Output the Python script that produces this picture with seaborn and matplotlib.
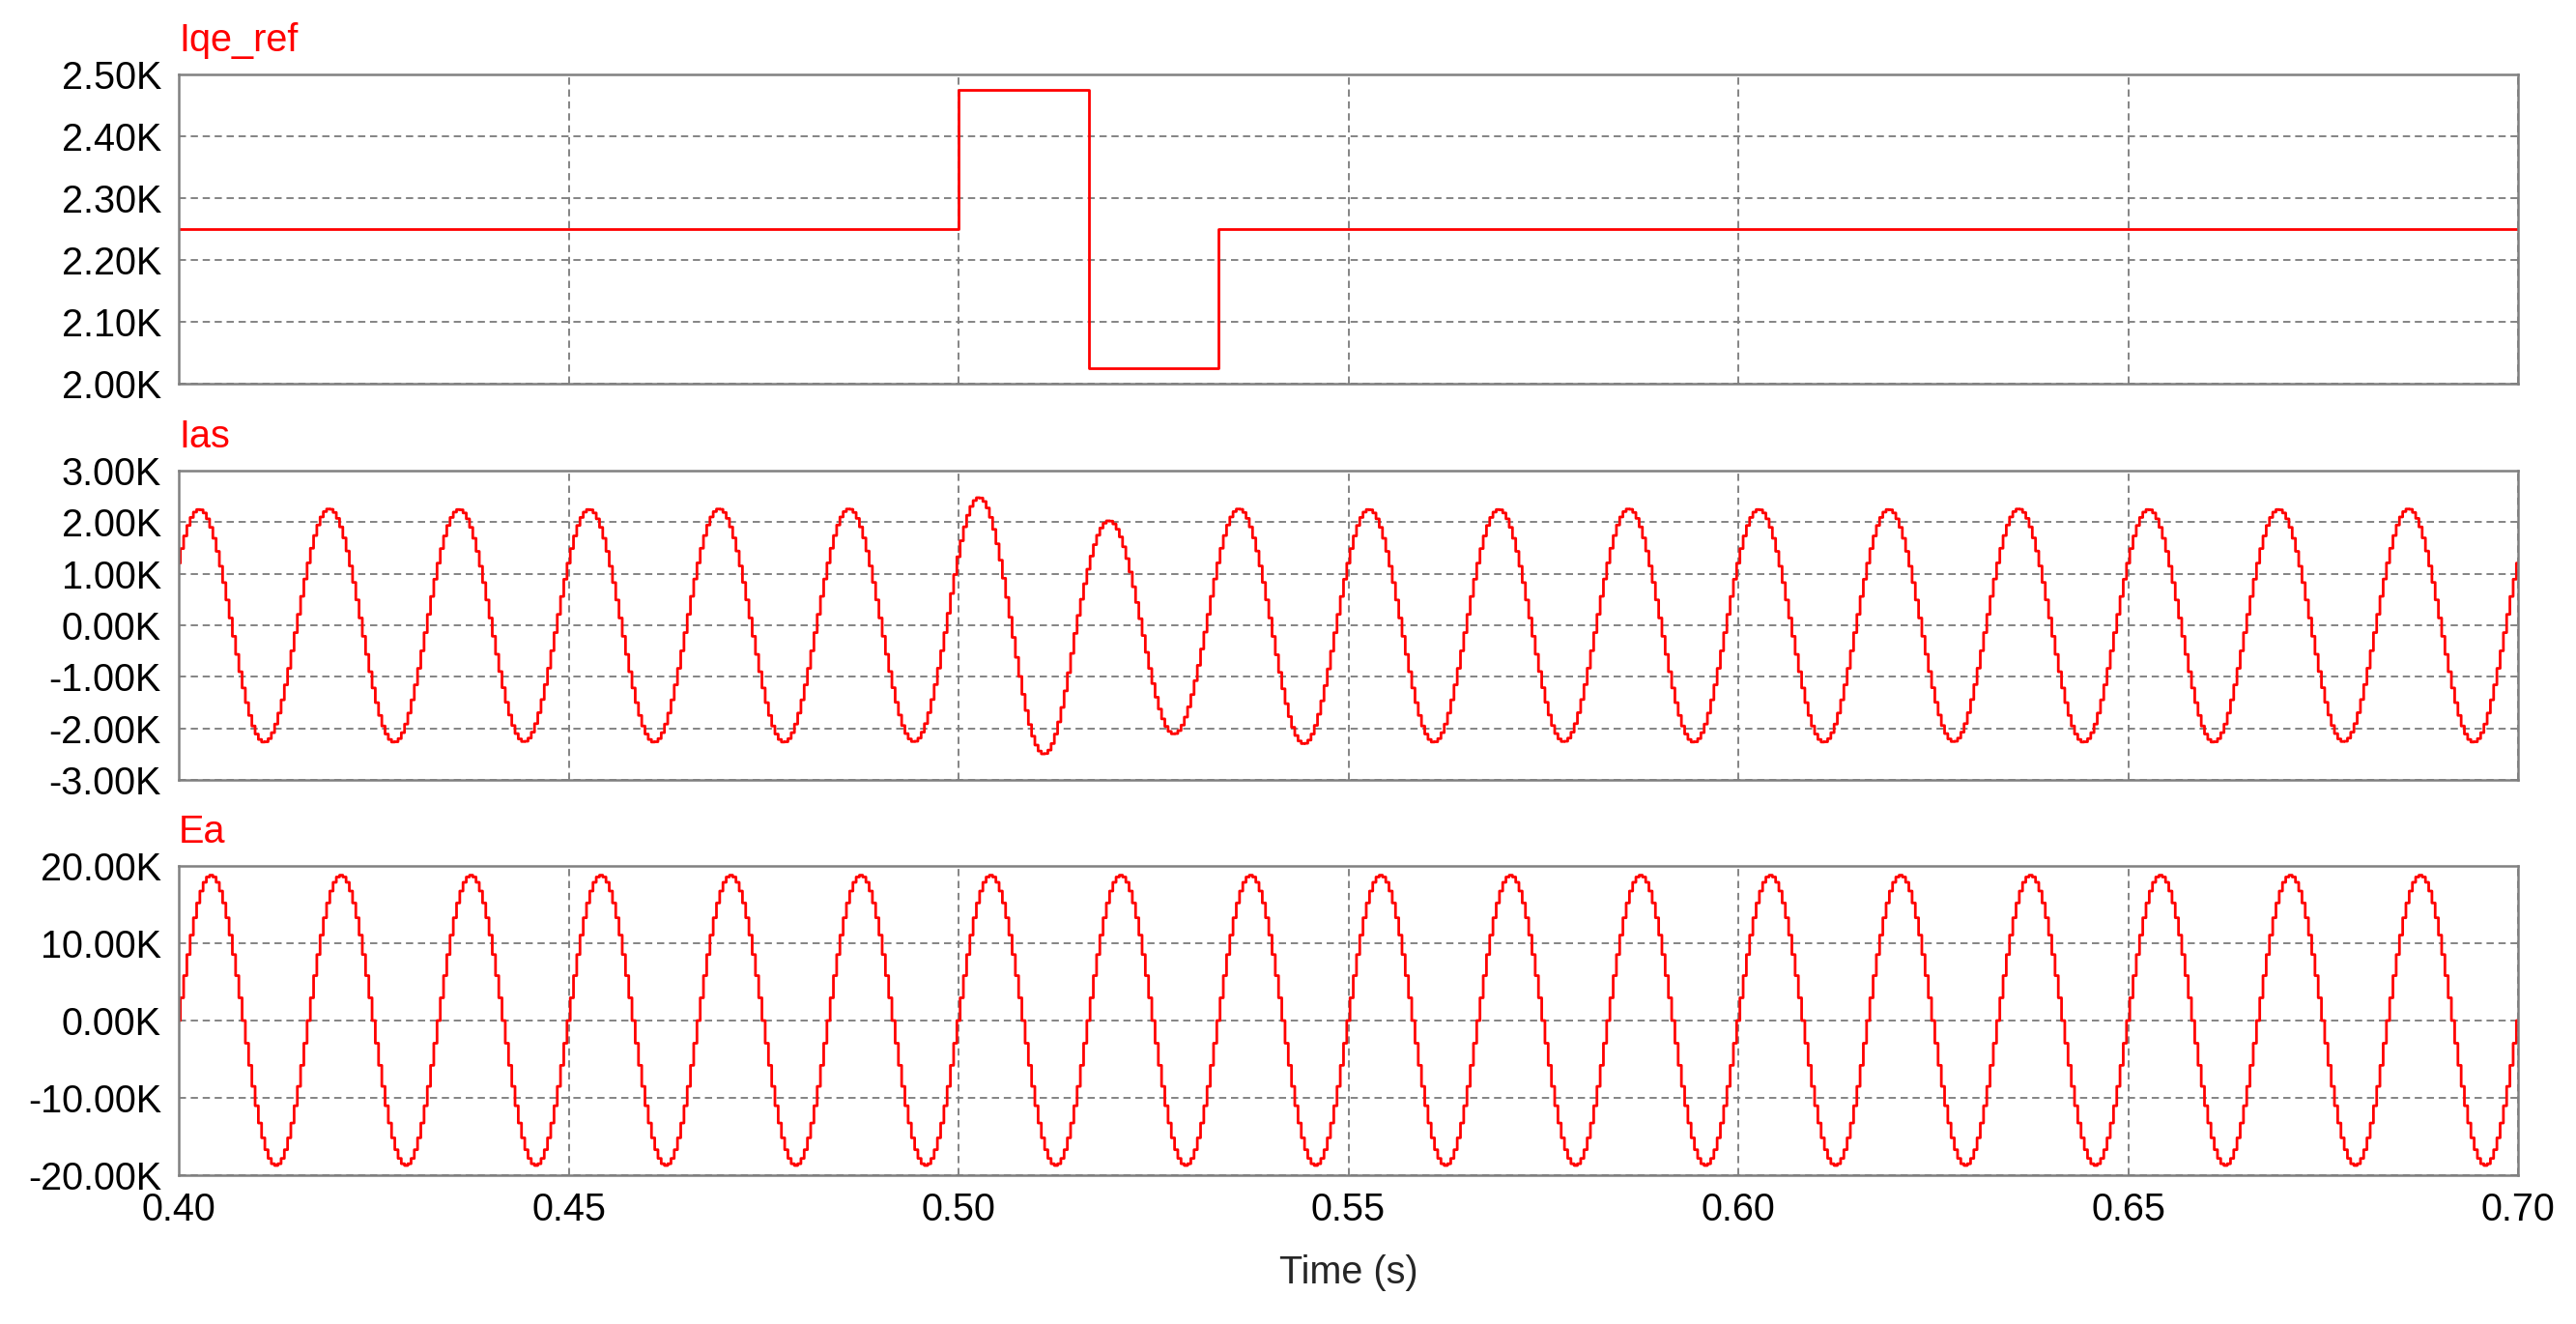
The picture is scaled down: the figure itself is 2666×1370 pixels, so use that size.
import numpy as np
import pandas as pd
import seaborn as sns
import matplotlib.pyplot as plt
from matplotlib.ticker import FuncFormatter, MultipleLocator

# Iqe_ref : step command (A)
iqe_time = [0.40, 0.50, 0.5167, 0.5333, 0.70]
iqe_value = [2250, 2475, 2025, 2250, 2250]

# Ias and Ea are 60 Hz waves; peak of every half-cycle
freq = 60.0
ias_first_zero = 0.3985
ias_pos_peaks = [2250, 2260, 2250, 2250, 2260, 2260, 2480, 2030, 2260, 2250,
                 2250, 2260, 2250, 2250, 2260, 2250, 2250, 2260, 2250]
ias_neg_peaks = [-2270, -2270, -2260, -2270, -2270, -2260, -2500, -2110, -2300,
                 -2270, -2260, -2270, -2270, -2260, -2270, -2270, -2260, -2270]
ea_first_zero = 0.40
ea_pos_peaks = [18800, 18800, 18800, 18800, 18800, 18800, 18800, 18800, 18800,
                18800, 18800, 18800, 18800, 18800, 18800, 18800, 18800, 18800]
ea_neg_peaks = [-18750, -18750, -18750, -18750, -18750, -18750, -18750, -18750, -18750,
                -18750, -18750, -18750, -18750, -18750, -18750, -18750, -18750, -18750]

x_ticks = [0.40, 0.45, 0.50, 0.55, 0.60, 0.65, 0.70]


def half_cycles(first_zero, pos, neg, t):
    # one half sine per half-cycle, scaled by the peak read for it
    amps = []
    for i in range(len(pos)):
        amps.append(pos[i])
        if i < len(neg):
            amps.append(neg[i])
    amps = np.array(amps, dtype=float)
    half = 0.5 / freq
    u = (t - first_zero) / half
    k = np.clip(np.floor(u).astype(int), 0, len(amps) - 1)
    return amps[k] * np.sin(np.pi * (u - k))


t = np.linspace(0.40, 0.70, 721)
iqe_df = pd.DataFrame({"t": iqe_time, "v": iqe_value})
ias_df = pd.DataFrame({"t": t, "v": half_cycles(ias_first_zero, ias_pos_peaks, ias_neg_peaks, t)})
ea_df = pd.DataFrame({"t": t, "v": half_cycles(ea_first_zero, ea_pos_peaks, ea_neg_peaks, t)})

sns.set_style("white")
plt.rcParams["font.family"] = ["Liberation Sans", "DejaVu Sans"]

W, H = 2666, 1370
fig = plt.figure(figsize=(W / 100, H / 100), dpi=100)
left, right = 185 / W, 2606 / W
tops = [77, 487, 896]
ax_h = 320
fs = 28.5

panels = [
    ("Iqe_ref", iqe_df, (2000, 2500), 100, "steps-post"),
    ("Ias", ias_df, (-3000, 3000), 1000, "steps-mid"),
    ("Ea", ea_df, (-20000, 20000), 10000, "steps-mid"),
]

axes = []
for (name, df, ylim, ystep, ds), top in zip(panels, tops):
    ax = fig.add_axes([left, 1 - (top + ax_h) / H, right - left, ax_h / H])
    sns.lineplot(data=df, x="t", y="v", ax=ax, color="#ff0000", linewidth=2.0,
                 drawstyle=ds, estimator=None, sort=False)
    ax.set_xlim(0.40, 0.70)
    ax.set_ylim(*ylim)
    ax.yaxis.set_major_locator(MultipleLocator(ystep))
    ax.yaxis.set_major_formatter(FuncFormatter(lambda v, p: f"{v / 1000:.2f}K"))
    ax.set_xticks(x_ticks)
    ax.xaxis.set_major_formatter(FuncFormatter(lambda v, p: f"{v:.2f}"))
    ax.grid(True, color="#808080", linestyle=(0, (4.0, 2.6)), linewidth=1.35)
    ax.set_axisbelow(True)
    for s in ax.spines.values():
        s.set_color("#808080")
        s.set_linewidth(1.8)
    ax.tick_params(length=0, labelsize=fs, pad=13, colors="black")
    ax.tick_params(axis="x", pad=12)
    ax.set_xlabel("")
    ax.set_ylabel("")
    ax.text(0.0, 1 + 24 / ax_h, name, transform=ax.transAxes, color="#ff0000",
            fontsize=fs, ha="left", va="baseline")
    axes.append(ax)

for ax in axes[:-1]:
    ax.tick_params(labelbottom=False)

axes[-1].set_xlabel("Time (s)", fontsize=fs)
axes[-1].xaxis.set_label_coords(0.5, -(1317 - 1216) / ax_h)
axes[-1].xaxis.label.set_va("center")

fig.savefig("out.png", dpi=100, facecolor="white")
